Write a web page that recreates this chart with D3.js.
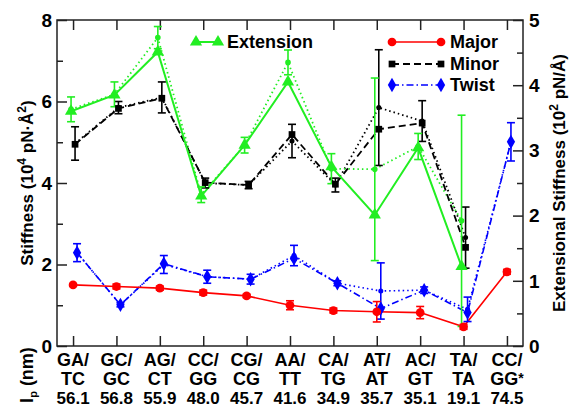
<!DOCTYPE html>
<html><head><meta charset="utf-8">
<script src="https://cdn.jsdelivr.net/npm/d3@7"></script>
<style>body{margin:0;background:#fff}text{font-family:"Liberation Sans",Arial,sans-serif;font-weight:bold}</style>
</head><body><svg id="c" width="571" height="407"></svg>
<script>
const catTop = ["GA/","GC/","AG/","CC/","CG/","AA/","CA/","AT/","AC/","TA/","CC/"];
const catBottom = ["TC","GC","CT","GG","CG","TT","TG","AT","GT","TA","GG"];
const lpValues = ["56.1","56.8","55.9","48.0","45.7","41.6","34.9","35.7","35.1","19.1","74.5"];

const major    = [1.50,1.46,1.42,1.31,1.23,1.00,0.87,0.84,0.82,0.47,1.82];
const majorErr = [0.03,0.06,0.05,0.06,0.04,0.11,0.06,0.25,0.15,0.06,0.06];

const minor    = [4.95,5.83,6.08,4.01,3.95,5.19,3.97,5.32,5.47,2.42,null];
const minorAlt = [4.97,5.85,6.10,4.00,3.95,5.03,3.95,5.85,5.52,2.66,null];
const minorErr = [0.41,0.15,0.38,0.12,0.09,0.41,0.17,1.42,0.50,0.75,null];

const twist    = [2.29,1.01,2.02,1.70,1.64,2.15,1.54,0.92,1.37,0.82,5.01];
const twistAlt = [2.29,1.01,2.00,1.70,1.64,2.22,1.54,1.35,1.37,0.90,5.01];
const twistErr = [0.22,0.05,0.22,0.16,0.12,0.25,0.06,0.69,0.08,0.30,0.47];

const ext    = [3.60,3.85,4.51,2.30,3.08,4.05,2.75,2.01,3.04,1.22,null];
const extAlt = [3.63,3.86,4.73,2.32,3.08,4.35,2.72,2.71,3.06,1.92,null];
const extErr = [0.19,0.19,0.17,0.12,0.12,0.19,0.23,1.40,0.20,1.62,null];

const leftTicks = [0,1,2,3,4,5,6,7,8];
const rightTicks = [0,0.5,1,1.5,2,2.5,3,3.5,4,4.5,5];

const RED="#ff0000", BLK="#000000", BLU="#0000ff", GRN="#22ee22";
const svg = d3.select("#c");
const L=57, R=523, T=20, B=346;
const x = d3.scaleLinear().domain([-0.37,10.37]).range([L,R]);
const yL = d3.scaleLinear().domain([0,8]).range([B,T]);
const yR = d3.scaleLinear().domain([0,5]).range([B,T]);
const idx = d3.range(catTop.length);

// axes
const axG = svg.append("g");
const axL = axG.append("g").attr("transform",`translate(${L},0)`).call(d3.axisRight(yL).tickValues(leftTicks).tickSize(0).tickFormat(""));
axL.selectAll(".tick line").attr("x2",d=>d%2===0?10:6);
const axR = axG.append("g").attr("transform",`translate(${R},0)`).call(d3.axisLeft(yR).tickValues(rightTicks).tickSize(0).tickFormat(""));
axR.selectAll(".tick line").attr("x2",d=>Number.isInteger(d)?-10:-6);
const axB = axG.append("g").attr("transform",`translate(0,${B})`).call(d3.axisTop(x).tickValues(idx).tickSize(10).tickFormat(""));
const axT = axG.append("g").attr("transform",`translate(0,${T})`).call(d3.axisBottom(x).tickValues(idx).tickSize(10).tickFormat(""));
axG.selectAll(".domain").remove();
axG.selectAll("line").attr("stroke","#222").attr("stroke-width",1.5);
svg.append("rect").attr("x",L).attr("y",T).attr("width",R-L).attr("height",B-T).attr("fill","none").attr("stroke","#222").attr("stroke-width",1.5);

// tick labels
svg.append("g").selectAll("text").data(leftTicks.filter(d=>d%2===0)).join("text")
  .attr("x",L-5).attr("y",d=>yL(d)).attr("dy","0.36em").attr("text-anchor","end").attr("font-size",19).text(d=>d);
svg.append("g").selectAll("text").data(rightTicks.filter(d=>Number.isInteger(d))).join("text")
  .attr("x",R+6).attr("y",d=>yR(d)).attr("dy","0.36em").attr("text-anchor","start").attr("font-size",19).text(d=>d);

// category labels
const lab = svg.append("g");
lab.selectAll(".t1").data(idx).join("text").attr("x",d=>x(d)).attr("y",366).attr("text-anchor","middle").attr("font-size",18).text(d=>catTop[d]);
lab.selectAll(".t2").data(idx).join("text").attr("x",d=>x(d)).attr("y",385).attr("text-anchor","middle").attr("font-size",18)
  .each(function(d){const t=d3.select(this);t.append("tspan").text(catBottom[d]);if(d===10){t.append("tspan").attr("dy",-2).attr("font-size",14).text("*");}});
lab.selectAll(".t3").data(idx).join("text").attr("x",d=>x(d)).attr("y",404).attr("text-anchor","middle").attr("font-size",17).text(d=>lpValues[d]);

// axis titles
const tl = svg.append("text").attr("transform",`translate(33,${(T+B)/2}) rotate(-90)`).attr("text-anchor","middle").attr("font-size",17);
tl.append("tspan").text("Stiffness (10");
tl.append("tspan").attr("dy",-7).attr("font-size",12).text("4");
tl.append("tspan").attr("dy",7).text(" pN·Å");
tl.append("tspan").attr("dy",-7).attr("font-size",12).text("2");
tl.append("tspan").attr("dy",7).text(")");
const tr = svg.append("text").attr("transform",`translate(565,${(T+B)/2}) rotate(-90)`).attr("text-anchor","middle").attr("font-size",17);
tr.append("tspan").text("Extensional Stiffness (10");
tr.append("tspan").attr("dy",-7).attr("font-size",12).text("2");
tr.append("tspan").attr("dy",7).text(" pN/Å)");
const tp = svg.append("text").attr("transform",`translate(33,375) rotate(-90)`).attr("text-anchor","middle").attr("font-size",18);
tp.append("tspan").text("l");
tp.append("tspan").attr("dy",4).attr("font-size",11).text("p");
tp.append("tspan").attr("dy",-4).text(" (nm)");

// series helpers
function pts(vals, y, off){return idx.filter(i=>vals[i]!=null).map(i=>[x(i)+off, y(vals[i])]);}
function line(vals,y,off,color,dash,w){
  svg.append("path").attr("d",d3.line()(pts(vals,y,off))).attr("fill","none").attr("stroke",color).attr("stroke-width",w||1.6).attr("stroke-dasharray",dash);
}
function errs(vals,err,y,off,color){
  const g=svg.append("g").attr("stroke",color).attr("stroke-width",1.6);
  idx.filter(i=>vals[i]!=null).forEach(i=>{
    const cx=x(i)+off, y1=y(vals[i]+err[i]), y2=y(vals[i]-err[i]);
    g.append("line").attr("x1",cx).attr("x2",cx).attr("y1",y1).attr("y2",y2);
    g.append("line").attr("x1",cx-4).attr("x2",cx+4).attr("y1",y1).attr("y2",y1);
    g.append("line").attr("x1",cx-4).attr("x2",cx+4).attr("y1",y2).attr("y2",y2);
  });
}
function marks(vals,y,off,color,type,size){
  svg.append("g").selectAll("path").data(pts(vals,y,off)).join("path")
    .attr("transform",p=>`translate(${p[0]},${p[1]})`).attr("fill",color)
    .attr("d",d3.symbol().type(type).size(size));
}

const DOT="1.5,3", DASH="7,4", DASHDOT="7,3,1.5,3";
const oE=-2, oM=0, oN=2, oT=4;
// dotted alternative lines
line(twistAlt,yL,oT,BLU,DOT,1.6);
line(minorAlt,yL,oN,BLK,DOT,1.8);
line(extAlt,yR,oE,GRN,DOT,1.8);
// main lines
line(twist,yL,oT,BLU,DASHDOT,1.6);
line(major,yL,oM,RED,null,1.6);
line(minor,yL,oN,BLK,DASH,1.8);
line(ext,yR,oE,GRN,null,2);
// error bars
errs(twistAlt,twistErr,yL,oT,BLU);
errs(major,majorErr,yL,oM,RED);
errs(minorAlt,minorErr,yL,oN,BLK);
errs(extAlt,extErr,yR,oE,GRN);
// markers
marks(twistAlt,yL,oT,BLU,d3.symbolCircle,20);
marks(minorAlt,yL,oN,BLK,d3.symbolCircle,20);
marks(extAlt,yR,oE,GRN,d3.symbolCircle,25);
marks(twist,yL,oT,BLU,d3.symbolDiamond,60);
marks(major,yL,oM,RED,d3.symbolCircle,60);
marks(minor,yL,oN,BLK,d3.symbolSquare,45);
marks(ext,yR,oE,GRN,d3.symbolTriangle,65);

// legends
function legend(x1,x2,yy,color,dash,type,size,label,w){
  svg.append("line").attr("x1",x1).attr("x2",x2).attr("y1",yy).attr("y2",yy).attr("stroke",color).attr("stroke-width",w||1.6).attr("stroke-dasharray",dash);
  [x1,x2].forEach(px=>svg.append("path").attr("transform",`translate(${px},${yy})`).attr("fill",color).attr("d",d3.symbol().type(type).size(size)));
  svg.append("text").attr("x",x2+9).attr("y",yy).attr("dy","0.36em").attr("font-size",18).text(label);
}
legend(196,218,42,GRN,null,d3.symbolTriangle,65,"Extension",2);
legend(392,441,42,RED,null,d3.symbolCircle,60,"Major");
legend(392,441,64,BLK,DASH,d3.symbolSquare,45,"Minor",1.8);
legend(392,441,85,BLU,DASHDOT,d3.symbolDiamond,60,"Twist");
</script></body></html>
